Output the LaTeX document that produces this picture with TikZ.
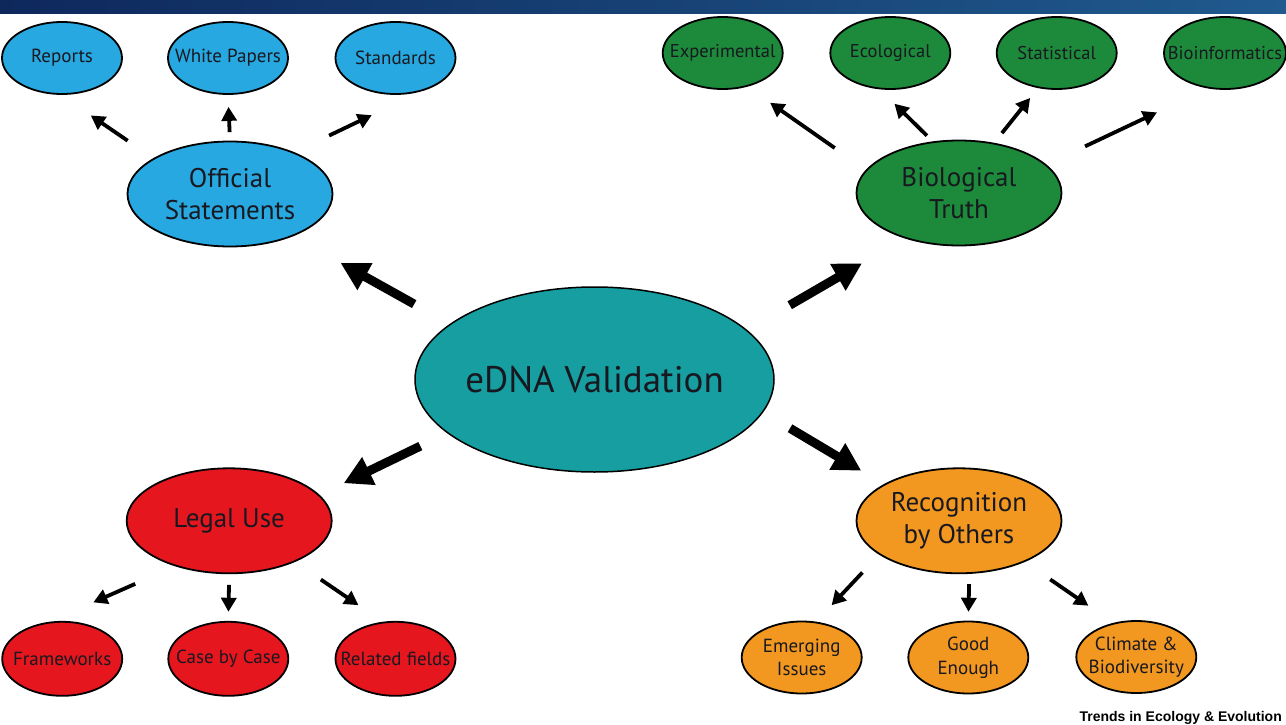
\documentclass[tikz,border=0pt]{standalone}
\usepackage{fontspec}
\setmainfont{PT Sans}
\newfontfamily\creditfont{Liberation Sans}
\usetikzlibrary{shapes.geometric,arrows.meta}

\definecolor{barleft}{RGB}{14,40,92}
\definecolor{barright}{RGB}{32,90,142}
\definecolor{sblue}{RGB}{40,168,224}
\definecolor{sgreen}{RGB}{28,138,58}
\definecolor{steal}{RGB}{22,158,160}
\definecolor{sred}{RGB}{230,22,30}
\definecolor{sorange}{RGB}{242,152,32}
\definecolor{ink}{RGB}{24,24,32}

\tikzset{
  bubble/.style={ellipse, draw=black, line width=1.8pt, inner xsep=-60pt,
    inner ysep=-20pt, text=ink, align=center},
  leaf/.style={bubble, minimum width=120pt, minimum height=72pt,
    font=\fontsize{19}{23.5}\selectfont},
  greenleaf/.style={leaf, fill=sgreen, font=\fontsize{18.5}{23}\selectfont},
  hub/.style={bubble, minimum width=205pt, minimum height=105pt,
    font=\fontsize{27}{32}\selectfont},
  core/.style={bubble, minimum width=359pt, minimum height=185pt,
    line width=1.5pt, font=\fontsize{37}{42}\selectfont},
  bigarrow/.style={line width=9pt, -{Triangle[length=28pt,width=29pt]}},
  smallarrow/.style={line width=3.8pt, -{Triangle[length=14pt,width=15pt]}},
}

\begin{document}
\begin{tikzpicture}[x=1pt,y=-1pt]
\path[use as bounding box, fill=white] (0,0) rectangle (1286,725);
\shade[left color=barleft, right color=barright] (0,0) rectangle (1286,14);

% centre
\node[core, fill=steal] (edna) at (594.5,379.5) {eDNA Validation};

% four main branches
\node[hub, fill=sblue]   (off)   at (230,194)   {Official\\Statements};
\node[hub, fill=sgreen]  (bio)   at (959,193)   {Biological\\Truth};
\node[hub, fill=sred]    (legal) at (229.2,520.8) {Legal Use};
\node[hub, fill=sorange] (rec)   at (959,520.8) {Recognition\\by Others};

% official statements
\node[leaf, fill=sblue] (rep) at (62,58)    {Reports};
\node[leaf, fill=sblue] (wp)  at (228,58)   {White Papers};
\node[leaf, fill=sblue] (std) at (395.5,58) {Standards};

% biological truth
\node[greenleaf] (exp) at (722.7,53)  {Experimental};
\node[greenleaf] (eco) at (890.3,53)  {Ecological};
\node[greenleaf] (sta) at (1056.7,53) {Statistical};
\node[greenleaf, minimum width=122pt] (bif) at (1225,53) {Bioinformatics};

% legal use
\node[leaf, fill=sred, minimum height=74pt] (fw)  at (62.2,658.8)  {Frameworks};
\node[leaf, fill=sred, minimum height=74pt] (cbc) at (228.3,658.8) {Case by Case};
\node[leaf, fill=sred, minimum height=74pt] (rf)  at (395.5,658.8) {Related fields};

% recognition by others
\node[leaf, fill=sorange] (emi)  at (801.7,657.5) {Emerging\\Issues};
\node[leaf, fill=sorange] (good) at (968.3,657.5) {Good\\Enough};
\node[leaf, fill=sorange] (clim) at (1136.3,657) {Climate \&\\Biodiversity};

% main arrows
\draw[bigarrow, shorten <=40.7pt, shorten >=54.6pt] (edna.159.4) -- (off.-34.1);
\draw[bigarrow, shorten <=49.2pt, shorten >=49.4pt] (edna.18.3) -- (bio.-140.5);
\draw[bigarrow, shorten <=29.7pt, shorten >=26.8pt] (edna.-160.5) -- (legal.16);
\draw[bigarrow, shorten <=31.2pt, shorten >=26.2pt] (edna.-11.6) -- (rec.154.2);

% secondary arrows
\draw[smallarrow, shorten <=31pt,   shorten >=36.4pt] (off.155.9) -- (rep.-92.7);
\draw[smallarrow, shorten <=8.5pt,  shorten >=12pt]   (off.90) -- (wp.-90);
\draw[smallarrow, shorten <=38.5pt, shorten >=55.2pt] (off.33) -- (std.-52.6);

\draw[smallarrow, shorten <=38pt,   shorten >=27.9pt] (bio.166.2) -- (exp.-54.5);
\draw[smallarrow, shorten <=8.1pt,  shorten >=20.4pt] (bio.117.4) -- (eco.-106.2);
\draw[smallarrow, shorten <=12.4pt, shorten >=12.6pt] (bio.55.9) -- (sta.-118.5);
\draw[smallarrow, shorten <=42.6pt, shorten >=56.1pt] (bio.18.4) -- (bif.-116.9);

\draw[smallarrow, shorten <=43.5pt, shorten >=48pt]   (legal.-140.9) -- (fw.109.9);
\draw[smallarrow, shorten <=10.7pt, shorten >=9.1pt]  (legal.-90) -- (cbc.90);
\draw[smallarrow, shorten <=31.2pt, shorten >=29.4pt] (legal.-32.4) -- (rf.109.6);

\draw[smallarrow, shorten <=24.4pt, shorten >=22.5pt] (rec.-157.5) -- (emi.68.2);
\draw[smallarrow, shorten <=10.2pt, shorten >=8.8pt]  (rec.-79.5) -- (good.90);
\draw[smallarrow, shorten <=30.8pt, shorten >=30.2pt] (rec.-32.8) -- (clim.124.8);

% credit line
\node[anchor=base east, inner sep=0pt, text=black,
      font=\creditfont\bfseries\fontsize{14}{16}\selectfont]
  (credit) at (1282,721) {Trends in Ecology \& Evolution};
\end{tikzpicture}
\end{document}
